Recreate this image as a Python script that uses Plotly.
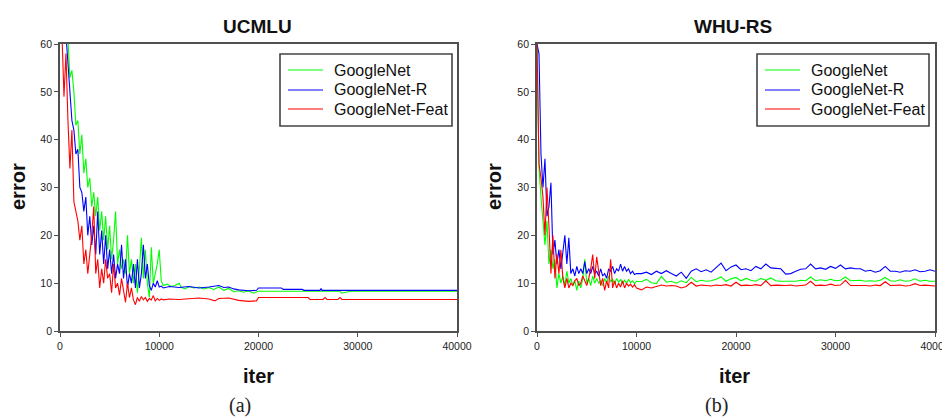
import plotly.graph_objects as go

OFF = 8  # page body margin: figure pixel = page pixel - OFF
W, H = 950 - OFF, 418 - OFF

# ---------------- UCMLU data ----------------
ucm_grid = list(range(0, 10600, 200))  # iterations for the noisy early phase
ucm_green_early = [70, 70, 68, 66, 61, 53, 54.5, 50, 43, 44, 37, 41, 33, 36, 30, 32, 26, 29, 24, 28,
                   21, 25, 19, 24, 17, 22, 15, 19, 25, 14, 17, 13, 15, 12, 20, 12, 15, 10, 14, 8,
                   13, 19.5, 11, 17, 10, 7, 17.5, 10, 12, 14, 17, 10.5, 9.5]
ucm_blue_early = [70, 70, 68, 62, 58, 50, 44, 42, 37, 38, 30, 29, 25, 28, 20, 24, 18, 22, 16, 25,
                  16, 21, 14, 20, 13, 17, 12, 16, 11, 14, 12, 18, 11, 15, 9, 12, 10, 14, 9, 15,
                  9, 12, 18, 11, 14, 9.5, 8.5, 10, 9.2, 10.5, 9.2, 9.4, 9.0]
ucm_red_early = [70, 62, 49, 58, 44, 34, 42, 27, 25, 23, 19, 22, 14, 17, 12, 16, 20, 26, 12, 15,
                 9, 13, 10, 15, 11, 12, 8, 14, 9, 10, 7.5, 11, 8.5, 6, 10, 7, 9, 6.5, 5.5, 7,
                 6.2, 7.2, 6.5, 7, 6.2, 6.8, 6.5, 7.4, 6.3, 6.8, 6.4, 6.7, 6.5]

ucm_green_late_x = [10800, 11200, 11600, 12000, 12200, 12600, 13000, 13500, 14000, 14500, 15000, 15500,
                    16000, 16500, 17000, 17500, 18000, 18500, 19000, 19500, 20000, 28200, 28400, 29000,
                    29500, 40000]
ucm_green_late_y = [9.8, 9.3, 9.5, 10, 9.2, 8.8, 9.3, 9, 9.2, 8.8, 9.1, 8.7,
                    9.2, 8.5, 8.9, 8.2, 8.4, 8.1, 8.4, 7.9, 8.3, 8.3, 7.9, 8.2,
                    8.3, 8.3]
ucm_blue_late_x = [11000, 12000, 13000, 14000, 15000, 16000, 16500, 17000, 17500, 18000, 19000, 19800,
                   20000, 22300, 22500, 24400, 24600, 26200, 26300, 26400, 40000]
ucm_blue_late_y = [9.3, 9.1, 9.3, 9.0, 9.2, 9.5, 9.1, 9.2, 8.8, 8.6, 8.4, 8.5,
                   9.0, 9.0, 8.7, 8.7, 8.5, 8.5, 8.9, 8.5, 8.5]
ucm_red_late_x = [11000, 12000, 13000, 14000, 15000, 15600, 16000, 17000, 18000, 19000, 19800, 20000,
                  25000, 25200, 26500, 26700, 26900, 28000, 28200, 28400, 40000]
ucm_red_late_y = [6.7, 6.6, 6.8, 6.9, 6.7, 6.3, 6.8, 6.9, 6.4, 6.2, 6.3, 7.0,
                  7.0, 6.6, 6.6, 7.0, 6.6, 6.6, 7.0, 6.6, 6.6]

# ---------------- WHU-RS data ----------------
whu_grid_early = list(range(0, 10200, 200))
whu_grid_late = list(range(10500, 40500, 500))
whu_green_early = [60, 34, 28, 22, 18, 23, 14, 17, 13, 15, 9, 12, 10, 11.5, 9.5, 12.5, 10, 11, 9.5, 10.5,
                   8.5, 10.5, 9, 11, 15, 10, 11, 9.5, 11.5, 10, 11, 10, 10.5, 9.5, 11, 10, 11.5, 10.3,
                   10.8, 9.8, 11, 10.2, 10.8, 9.9, 10.6, 10.0, 10.8, 10.1, 10.5, 9.9, 10.4]
whu_green_late = [10.3, 10.8, 10.1, 9.9, 11.4, 10.2, 10.4, 10.0, 10.5, 10.1, 11.2, 10.3, 10.6, 10.4, 10.5,
                  10.8, 11.3, 10.4, 10.9, 11.2, 10.5, 11.0, 10.6, 10.4, 11.0, 10.6, 11.1, 10.5, 10.4, 10.4,
                  10.5, 10.4, 10.6, 10.5, 11.3, 10.5, 10.7, 10.5, 10.8, 10.5, 10.6, 11.3, 10.5, 10.5, 10.6,
                  10.4, 10.5, 10.4, 10.6, 11.2, 10.5, 10.4, 10.7, 10.4, 10.5, 10.9, 10.4, 10.6, 10.4, 10.4]
whu_blue_early = [60, 58, 37, 30, 36, 24, 26, 31, 16, 19, 14, 17, 13, 16, 20, 14, 19.5, 12, 13, 11.5,
                  13.5, 12, 13, 12, 14.5, 12, 13, 12, 13.5, 12, 12.5, 11.5, 13, 11.5, 12, 11, 13, 12.5,
                  13.5, 12, 13, 12.5, 14, 12.5, 13.5, 12.5, 13, 12, 12.5, 11.8, 12]
whu_blue_late = [12.0, 12.3, 11.8, 12.5, 12.0, 12.6, 12.0, 11.5, 12.3, 11.0, 12.5, 13.0, 12.4, 12.8, 12.3,
                 13.2, 14.2, 12.6, 13.4, 13.8, 12.8, 13.0, 12.6, 13.5, 13.0, 14.0, 13.2, 13.1, 13.0, 11.9,
                 12.0, 12.5, 12.9, 13.0, 14.0, 13.0, 13.2, 12.9, 13.5, 13.1, 13.8, 13.0, 13.2, 13.0, 13.0,
                 12.5, 12.7, 12.3, 12.6, 13.5, 12.5, 12.5, 12.3, 12.6, 12.5, 12.8, 12.4, 12.5, 12.8, 12.5]
whu_red_early = [60, 35, 32, 28, 20, 30, 22, 12, 20, 11, 16, 12, 17, 11, 9, 11, 9, 10, 9.5, 10.5,
                 11, 9.5, 10, 11.5, 10.5, 9.5, 11, 13, 16, 11, 15.5, 12, 9.5, 11, 8.5, 10.5, 9, 15,
                 9, 10.5, 9, 10, 9.2, 10.5, 9, 10, 9.4, 9.8, 9.2, 9.7, 9.0]
whu_red_late = [8.6, 9.2, 9.0, 9.3, 9.6, 9.4, 9.5, 9.4, 9.0, 9.3, 10.2, 9.4, 9.6, 9.5, 9.4,
                9.6, 9.5, 9.7, 9.4, 10.2, 9.5, 9.6, 9.5, 9.7, 9.5, 10.5, 9.5, 9.6, 9.5, 9.5,
                9.6, 9.4, 9.5, 9.6, 10.4, 9.5, 9.6, 9.5, 9.8, 9.5, 9.6, 10.6, 9.5, 9.5, 9.6,
                9.5, 9.4, 9.6, 9.5, 10.3, 9.5, 9.5, 9.6, 9.4, 9.5, 9.9, 9.5, 9.6, 9.5, 9.4]

series_names = ["GoogleNet", "GoogleNet-R", "GoogleNet-Feat"]
series_colors = ["#00ff00", "#0000ff", "#ff0000"]
panel_titles = ["UCMLU", "WHU-RS"]
captions = ["(a)", "(b)"]
x_ticks = [0, 10000, 20000, 30000, 40000]
y_ticks = [0, 10, 20, 30, 40, 50, 60]


def px_x(p):
    return (p - OFF) / W


def px_y(p):
    return (H - (p - OFF)) / H


fig = go.Figure()

ucm = [
    (ucm_grid + ucm_green_late_x, ucm_green_early + ucm_green_late_y),
    (ucm_grid + ucm_blue_late_x, ucm_blue_early + ucm_blue_late_y),
    (ucm_grid + ucm_red_late_x, ucm_red_early + ucm_red_late_y),
]
whu = [
    (whu_grid_early + whu_grid_late, whu_green_early + whu_green_late),
    (whu_grid_early + whu_grid_late, whu_blue_early + whu_blue_late),
    (whu_grid_early + whu_grid_late, whu_red_early + whu_red_late),
]

for i, (xs, ys) in enumerate(ucm):
    fig.add_trace(go.Scatter(x=xs, y=ys, mode="lines", name=series_names[i],
                             line=dict(color=series_colors[i], width=1.1),
                             xaxis="x", yaxis="y", showlegend=False))
for i, (xs, ys) in enumerate(whu):
    fig.add_trace(go.Scatter(x=xs, y=ys, mode="lines", name=series_names[i],
                             line=dict(color=series_colors[i], width=1.1),
                             xaxis="x2", yaxis="y2", showlegend=False))

axis_common = dict(showline=True, mirror=True, linecolor="#505050", linewidth=1.8,
                   ticks="outside", ticklen=4, tickcolor="#505050", tickwidth=1,
                   showgrid=False, zeroline=False, automargin=False,
                   tickfont=dict(family="Arial, Liberation Sans, sans-serif", size=10.5, color="#222222"))

ydom = [px_y(331), px_y(44)]
fig.update_layout(
    width=W, height=H,
    margin=dict(l=0, r=0, t=0, b=0, autoexpand=False),
    paper_bgcolor="white", plot_bgcolor="white",
    showlegend=False,
    xaxis=dict(domain=[px_x(60), px_x(457)], range=[0, 40000], tickvals=x_ticks,
               ticktext=[str(v) for v in x_ticks], anchor="y", **axis_common),
    yaxis=dict(domain=ydom, range=[0, 60], tickvals=y_ticks, anchor="x", **axis_common),
    xaxis2=dict(domain=[px_x(537), px_x(935)], range=[0, 40000], tickvals=x_ticks,
                ticktext=[str(v) for v in x_ticks], anchor="y2", **axis_common),
    yaxis2=dict(domain=ydom, range=[0, 60], tickvals=y_ticks, anchor="x2", **axis_common),
)

# custom legends (boxes, sample lines, labels) in paper coordinates
shapes = []
ann = []
leg_font = dict(family="Arial, Liberation Sans, sans-serif", size=16, color="#111111")
for bx in (280, 757):
    shapes.append(dict(type="rect", xref="paper", yref="paper",
                       x0=px_x(bx), x1=px_x(bx + 172), y0=px_y(126), y1=px_y(54),
                       line=dict(color="#444444", width=1.6), fillcolor="white", layer="above"))
    for k, yy in enumerate([70, 90, 109]):
        shapes.append(dict(type="line", xref="paper", yref="paper",
                           x0=px_x(bx + 8), x1=px_x(bx + 43), y0=px_y(yy), y1=px_y(yy),
                           line=dict(color=series_colors[k], width=1.2), layer="above"))
        ann.append(dict(x=px_x(bx + 52), y=px_y(yy), xref="paper", yref="paper",
                        text=series_names[k], showarrow=False, font=leg_font,
                        xanchor="left", yanchor="middle"))

bold_font = dict(family="Arial, Liberation Sans, sans-serif", size=19, color="#111111")
for cx, title, cap, ex in [(257, panel_titles[0], captions[0], 18), (733, panel_titles[1], captions[1], 494)]:
    ann.append(dict(x=px_x(cx), y=px_y(26), xref="paper", yref="paper", text="<b>%s</b>" % title,
                    showarrow=False, font=bold_font, xanchor="center", yanchor="middle"))
    ann.append(dict(x=px_x(cx + 1), y=px_y(376), xref="paper", yref="paper", text="<b>iter</b>",
                    showarrow=False, font=dict(bold_font, size=20), xanchor="center", yanchor="middle"))
    ann.append(dict(x=px_x(ex), y=px_y(187), xref="paper", yref="paper", text="<b>error</b>",
                    showarrow=False, font=dict(bold_font, size=20), textangle=-90,
                    xanchor="center", yanchor="middle"))
    ann.append(dict(x=px_x(cx - 17), y=px_y(405), xref="paper", yref="paper", text=cap,
                    showarrow=False, font=dict(family="Liberation Serif, serif", size=20, color="#222222"),
                    xanchor="center", yanchor="middle"))
fig.update_layout(annotations=ann, shapes=shapes)

fig.write_html("out.html")
